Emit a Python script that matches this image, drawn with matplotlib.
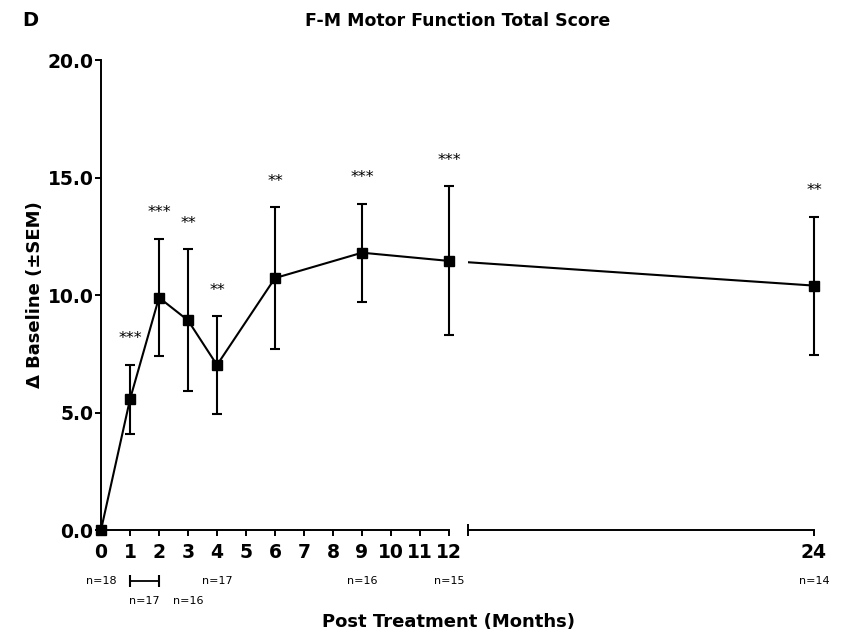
import matplotlib
matplotlib.use('Agg')
import matplotlib.pyplot as plt
from matplotlib.ticker import FixedLocator, NullFormatter
from matplotlib.transforms import blended_transform_factory

plt.rcParams['font.family'] = ['DejaVu Sans']

# ---------------- data ----------------
months = [0, 1, 2, 3, 4, 6, 9, 12, 24]
mean_change = [0.0, 5.56, 9.89, 8.92, 7.02, 10.72, 11.80, 11.45, 10.40]
sem = [0.0, 1.47, 2.50, 3.02, 2.07, 3.02, 2.08, 3.17, 2.94]
significance = ['', '***', '***', '**', '**', '**', '***', '***', '**']

x_ticks_a = list(range(0, 13))
x_ticks_b = [24]
y_ticks = [0, 5, 10, 15, 20]
y_tick_labels = ['0.0', '5.0', '10.0', '15.0', '20.0']

n_row1_pos = [0, 4, 9, 12, 24]
n_row1_text = ['n=18', 'n=17', 'n=16', 'n=15', 'n=14']
n_row2_pos = [1.5, 3]
n_row2_text = ['n=17', 'n=16']
bracket_span = [1, 2]

title = 'F-M Motor Function Total Score'
panel = 'D'
xlabel = 'Post Treatment (Months)'
ylabel = '\u0394 Baseline (\u00b1SEM)'

# ---------------- layout ----------------
W, H = 850, 636
fig = plt.figure(figsize=(W / 100, H / 100), dpi=100)
bottom = 1 - 530 / H
height = (530 - 60) / H
ax1 = fig.add_axes([101 / W, bottom, (449 - 101) / W, height])
ax2 = fig.add_axes([468 / W, bottom, (814 - 468) / W, height], sharey=ax1)

LW = 1.4
for ax in (ax1, ax2):
    for s in ('top', 'right'):
        ax.spines[s].set_visible(False)
    ax.spines['bottom'].set_linewidth(LW)
    ax.spines['left'].set_linewidth(LW)
ax2.spines['left'].set_visible(False)

ax1.set_xlim(0, 12)
ax2.set_xlim(12.64, 24)
ax1.set_ylim(0, 20)

# ---------------- data marks ----------------
seg_a = [i for i, m in enumerate(months) if m <= 12]
seg_b = [i for i, m in enumerate(months) if m > 12]

eb_kw = dict(fmt='-s', color='black', ms=7.7, lw=1.5, elinewidth=1.5,
             capsize=3.6, capthick=1.5, mfc='black', mec='black')

c1 = ax1.errorbar([months[i] for i in seg_a], [mean_change[i] for i in seg_a],
                  yerr=[sem[i] for i in seg_a], **eb_kw)
for art in c1.get_children():
    art.set_clip_on(False)

# connecting line across the break (clipped to second segment)
last_a = seg_a[-1]
ax2.plot([months[last_a]] + [months[i] for i in seg_b],
         [mean_change[last_a]] + [mean_change[i] for i in seg_b],
         color='black', lw=1.5, clip_on=True)
c2 = ax2.errorbar([months[i] for i in seg_b], [mean_change[i] for i in seg_b],
                  yerr=[sem[i] for i in seg_b], **eb_kw)
for art in c2.get_children():
    art.set_clip_on(False)

# significance stars
for m, v, e, s in zip(months, mean_change, sem, significance):
    if not s:
        continue
    ax = ax1 if m <= 12 else ax2
    ax.annotate(s, xy=(m, v + e), xytext=(0, 15.5), textcoords='offset points',
                ha='center', va='baseline', fontsize=11.5, annotation_clip=False)

# ---------------- ticks ----------------
tick_font = dict(fontsize=13.5, fontweight='bold')
ax1.set_yticks(y_ticks)
ax1.set_yticklabels(y_tick_labels, **tick_font)
ax1.tick_params(axis='y', direction='out', length=4, width=LW, pad=1.5)
ax2.tick_params(axis='y', left=False, labelleft=False)

ax1.set_xticks(x_ticks_a)
ax1.set_xticklabels([str(t) for t in x_ticks_a], **tick_font)
ax1.xaxis.set_minor_locator(FixedLocator([x_ticks_a[-1]]))
ax1.xaxis.set_minor_formatter(NullFormatter())
ax1.tick_params(axis='x', which='major', direction='out', length=4, width=LW, pad=5)
ax1.tick_params(axis='x', which='minor', direction='inout', length=8, width=LW)

ax2.set_xticks(x_ticks_b)
ax2.set_xticklabels([str(t) for t in x_ticks_b], **tick_font)
ax2.xaxis.set_minor_locator(FixedLocator([ax2.get_xlim()[0], x_ticks_b[-1]]))
ax2.xaxis.set_minor_formatter(NullFormatter())
ax2.tick_params(axis='x', which='major', direction='out', length=4, width=LW, pad=5)
ax2.tick_params(axis='x', which='minor', direction='inout', length=8, width=LW)

# ---------------- n labels ----------------
row1_y = 1 - 581 / H
row2_y = 1 - 601 / H
for p, t in zip(n_row1_pos, n_row1_text):
    ax = ax1 if p <= 12 else ax2
    tr = blended_transform_factory(ax.transData, fig.transFigure)
    ax.text(p, row1_y, t, transform=tr, ha='center', va='center', fontsize=8, clip_on=False)
for p, t in zip(n_row2_pos, n_row2_text):
    tr = blended_transform_factory(ax1.transData, fig.transFigure)
    ax1.text(p, row2_y, t, transform=tr, ha='center', va='center', fontsize=8, clip_on=False)
trb = blended_transform_factory(ax1.transData, fig.transFigure)
ax1.plot(bracket_span, [row1_y, row1_y], transform=trb, color='black', lw=1.3,
         marker='|', ms=8, mew=1.5, clip_on=False)

# ---------------- labels ----------------
fig.text(449 / W, 1 - 622 / H, xlabel, ha='center', va='center', fontsize=13, fontweight='bold')
fig.text(35 / W, 1 - 295 / H, ylabel, ha='center', va='center', rotation=90,
         fontsize=13, fontweight='bold')
fig.text(458 / W, 1 - 21 / H, title, ha='center', va='center', fontsize=12.5, fontweight='bold')
fig.text(30 / W, 1 - 21 / H, panel, ha='center', va='center', fontsize=14, fontweight='bold')

fig.savefig('out.png', dpi=100)
